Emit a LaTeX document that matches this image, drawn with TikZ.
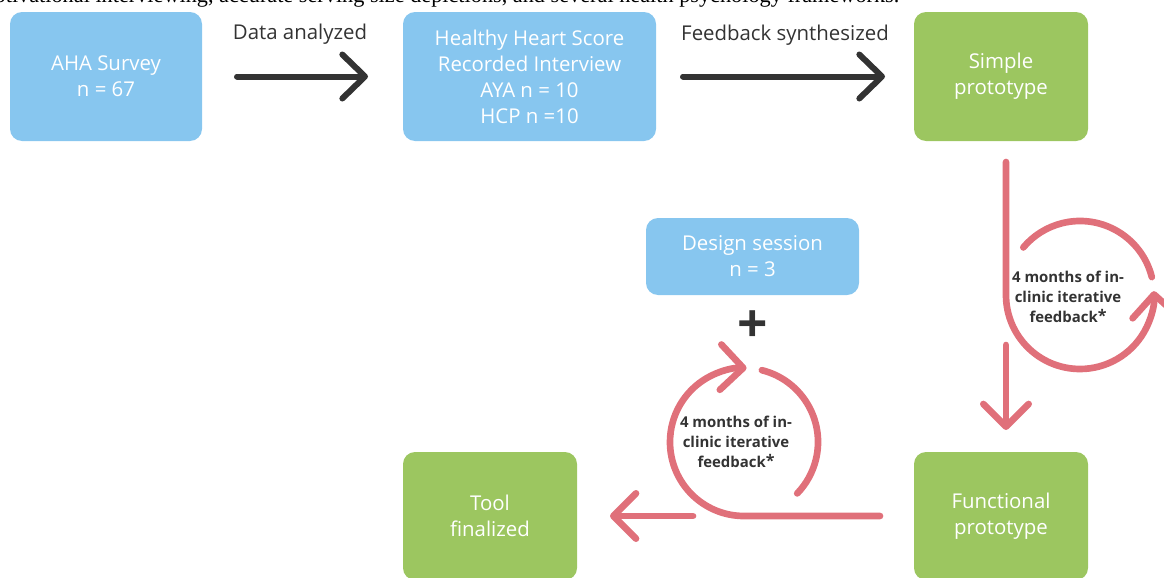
\documentclass[tikz,border=0pt]{standalone}
\usepackage{fontspec}
\setmainfont{Open Sans}
\newfontfamily\captionserif{Liberation Serif}
\usetikzlibrary{arrows.meta}
\definecolor{boxblue}{HTML}{87C6EF}
\definecolor{boxgreen}{HTML}{9CC660}
\definecolor{looppink}{HTML}{E0707A}
\definecolor{inkgray}{HTML}{333333}

\begin{document}
\begin{tikzpicture}[x=0.75pt, y=-0.75pt,
	bluebox/.style={fill=boxblue, rounded corners=9pt, text=white, align=center,
		inner sep=0pt, outer sep=0pt, font=\fontsize{15.3}{19.5}\selectfont},
	greenbox/.style={bluebox, fill=boxgreen},
	steptext/.style={text=inkgray, font=\fontsize{15.3}{17}\selectfont},
	looptext/.style={text=inkgray, align=center, font=\bfseries\fontsize{11.2}{15}\selectfont},
	darkarrow/.style={draw=inkgray, line width=4.5pt, line cap=round,
		-{Straight Barb[length=17pt, width=33pt, round]}},
	pinkline/.style={draw=looppink, line width=5pt, line cap=round},
	pinkarrow/.style={pinkline, -{Straight Barb[length=17pt, width=34pt, round]}}]
		%%%%% START %%%%%
		
		\useasboundingbox (0, 0) rectangle (1164, 578);
		\clip (0, 0) rectangle (1164, 578);
		
		\node[anchor=base east, font=\captionserif\fontsize{16.7}{16.7}\selectfont] (cut) at (904, 2.5)
			{motivational interviewing, accurate serving size depictions, and several health psychology frameworks.};
		
		\node[bluebox, minimum width=144pt, minimum height=96.75pt] (aha) at (106, 76.5) {AHA Survey\\n = 67};
		\node[bluebox, minimum width=189.75pt, minimum height=96.75pt] (hhs) at (529.5, 76.5)
			{Healthy Heart Score\\Recorded Interview\\AYA n = 10\\HCP n =10};
		\node[greenbox, minimum width=130.5pt, minimum height=96.75pt] (simple) at (1001, 76.5) {Simple\\prototype};
		\node[bluebox, minimum width=159.75pt, minimum height=57.75pt] (design) at (752.5, 256.5) {Design session\\n = 3};
		\node[greenbox, minimum width=130.5pt, minimum height=96pt] (tool) at (490, 516) {Tool\\finalized};
		\node[greenbox, minimum width=130.5pt, minimum height=96pt] (functional) at (1001, 516) {Functional\\prototype};
		
		\node[steptext] (lbldata) at (300, 34) {Data analyzed};
		\node[steptext] (lblfeed) at (785, 35) {Feedback synthesized};
		\draw[darkarrow, shorten <=26.25pt, shorten >=26.25pt] (aha) -- (hhs);
		\draw[darkarrow, shorten <=20.25pt, shorten >=21.75pt] (hhs) -- (simple);
		
		% loop on the right
		\draw[pinkarrow, shorten <=15.75pt] ([xshift=3.75pt]simple.south) -- (1006, 295)
			arc[start angle=180, end angle=363, radius=55.5pt];
		\draw[pinkline] (1080, 295) ++(14:55.5pt) arc[start angle=14, end angle=140, radius=55.5pt];
		\node[looptext] (loopRtxt) at (1068, 297) {4 months of in-\\clinic iterative\\feedback\raisebox{1pt}{\large*}};
		\coordinate (loopR) at (1006, 345);
		\draw[pinkarrow, shorten >=16.5pt] (loopR) -- (loopR |- functional.north);
		
		% loop at the bottom
		\draw[pinkarrow, shorten <=25.5pt] (functional.west) -- (744, 516)
			arc[start angle=270, end angle=88, radius=55.5pt];
		\draw[pinkline] (744, 442) ++(76:55.5pt) arc[start angle=76, end angle=-44, radius=55.5pt];
		\node[looptext] (loopBtxt) at (736, 442) {4 months of in-\\clinic iterative\\feedback\raisebox{1pt}{\large*}};
		\coordinate (loopL) at (693, 516);
		\draw[pinkarrow, shorten >=24.75pt] (loopL) -- (loopL -| tool.east);
		
		\node[text=inkgray, font=\bfseries\fontsize{40}{40}\selectfont] (plus) at (753, 327) {+};
		
		%%%%% END %%%%%
\end{tikzpicture}
\end{document}
